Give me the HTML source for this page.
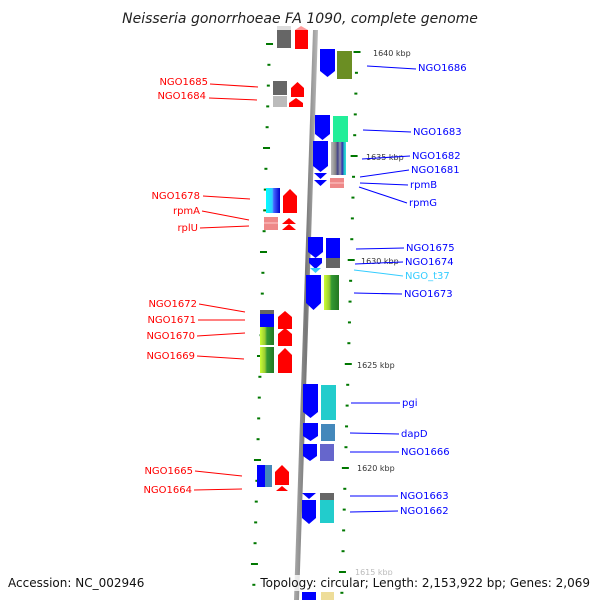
<!DOCTYPE html>
<html><head><meta charset="utf-8"><style>
html,body{margin:0;padding:0;background:#fff;}
svg{display:block;font-family:"DejaVu Sans","Liberation Sans",sans-serif;}
</style></head><body>
<svg id="s" width="600" height="600" viewBox="0 0 600 600" xmlns="http://www.w3.org/2000/svg">
<defs>
<linearGradient id="bb" x1="0" x2="1"><stop offset="0" stop-color="#aaa"/><stop offset="0.5" stop-color="#777"/><stop offset="1" stop-color="#bbb"/></linearGradient>
<linearGradient id="multi" x1="0" x2="1"><stop offset="0" stop-color="#bbb"/><stop offset="0.3" stop-color="#888"/><stop offset="0.45" stop-color="#448"/><stop offset="0.6" stop-color="#99a"/><stop offset="0.75" stop-color="#33a"/><stop offset="0.9" stop-color="#2cc"/><stop offset="1" stop-color="#3dd"/></linearGradient>
<linearGradient id="cyb" x1="0" x2="1"><stop offset="0" stop-color="#0ff"/><stop offset="0.45" stop-color="#3cf"/><stop offset="0.55" stop-color="#46f"/><stop offset="1" stop-color="#00c"/></linearGradient>
<linearGradient id="lg" x1="0" x2="1"><stop offset="0" stop-color="#ccff33"/><stop offset="0.35" stop-color="#99cc33"/><stop offset="0.5" stop-color="#339933"/><stop offset="1" stop-color="#227722"/></linearGradient>
</defs>
<text x="300" y="23" font-size="14" font-style="italic" text-anchor="middle" fill="#222">Neisseria gonorrhoeae FA 1090, complete genome</text>
<polygon points="313,30 318,30 299,600 294,600" fill="url(#bb)"/>
<g id="ticks"></g>
<g font-size="8" fill="#333">
<text x="373" y="56">1640 kbp</text>
<text x="366" y="160">1635 kbp</text>
<text x="361" y="264">1630 kbp</text>
<text x="357" y="368">1625 kbp</text>
<text x="357" y="471">1620 kbp</text>
<text x="355" y="575" fill="#bbb">1615 kbp</text>
</g>
<g>
<rect x="277" y="30" width="14" height="18" fill="#666"/><rect x="277" y="26" width="14" height="4" fill="#ddd"/>
<rect x="295" y="30" width="13" height="19" fill="#f00"/><polygon points="295,30 301,26 308,30" fill="#f99"/>
<rect x="273" y="81" width="14" height="14" fill="#666"/>
<rect x="273" y="96" width="14" height="11" fill="#bbb"/>
<polygon points="291,97 291,88 297.5,82 304,88 304,97" fill="#f00"/>
<polygon points="289,107 289,103 296,98 303,103 303,107" fill="#f00"/>
<rect x="266" y="188" width="14" height="25" fill="url(#cyb)"/>
<polygon points="283,213 283,196 290,189 297,196 297,213" fill="#f00"/>
<rect x="264" y="217" width="14" height="13" fill="#e88"/><line x1="264" y1="223" x2="278" y2="223" stroke="#fcc"/>
<polygon points="282,224 289,218 296,224" fill="#f00"/><polygon points="282,230 289,224 296,230" fill="#f00"/>
<rect x="260" y="310" width="14" height="4" fill="#666"/>
<rect x="260" y="314" width="14" height="13" fill="#00f"/>
<rect x="260" y="327" width="14" height="18" fill="url(#lg)"/>
<rect x="260" y="347" width="14" height="26" fill="url(#lg)"/>
<polygon points="278,329 278,317 285,311 292,317 292,329" fill="#f00"/>
<polygon points="278,346 278,334 285,328 292,334 292,346" fill="#f00"/>
<polygon points="278,373 278,355 285,348 292,355 292,373" fill="#f00"/>
<rect x="257" y="465" width="15" height="22" fill="#00f"/><rect x="265" y="465" width="7" height="22" fill="#48b"/>
<polygon points="275,485 275,472 282,465 289,472 289,485" fill="#f00"/>
<polygon points="276,491 282,486 288,491" fill="#f00"/>
</g>
<g>
<polygon points="320,49 335,49 335,71 327.5,77 320,71" fill="#00f"/>
<rect x="337" y="51" width="15" height="28" fill="#6b8e23"/>
<polygon points="315,115 330,115 330,134 322.5,140 315,134" fill="#00f"/>
<rect x="333" y="116" width="15" height="26" fill="#2e9"/>
<polygon points="313,141 328,141 328,166 320.5,172 313,166" fill="#00f"/>
<polygon points="314,173 327,173 320.5,179" fill="#00f"/>
<polygon points="314,180 327,180 320.5,186" fill="#00f"/>
<rect x="331" y="142" width="15" height="33" fill="url(#multi)"/>
<rect x="330" y="178" width="14" height="10" fill="#e88"/><line x1="330" y1="183" x2="344" y2="183" stroke="#fcc"/>
<polygon points="308,237 323,237 323,252 315.5,258 308,252" fill="#00f"/>
<polygon points="309,258 322,258 322,263 315.5,269 309,263" fill="#00f"/>
<polygon points="310,268 321,268 315.5,273" fill="#3cf"/>
<rect x="326" y="238" width="14" height="20" fill="#00f"/><rect x="326" y="258" width="14" height="10" fill="#666"/>
<polygon points="306,275 321,275 321,303 313.5,310 306,303" fill="#00f"/>
<rect x="324" y="275" width="15" height="35" fill="url(#lg)"/>
<polygon points="303,384 318,384 318,412 310.5,418 303,412" fill="#00f"/>
<rect x="321" y="385" width="15" height="35" fill="#2cc"/>
<polygon points="303,423 318,423 318,436 310.5,441 303,436" fill="#00f"/>
<rect x="321" y="424" width="14" height="17" fill="#48b"/>
<polygon points="303,444 317,444 317,456 310,461 303,456" fill="#00f"/>
<rect x="320" y="444" width="14" height="17" fill="#66c"/>
<polygon points="302,493 316,493 309,499" fill="#00f"/>
<polygon points="302,500 316,500 316,518 309,524 302,518" fill="#00f"/>
<rect x="320" y="493" width="14" height="7" fill="#666"/><rect x="320" y="500" width="14" height="23" fill="#2cc"/>
<rect x="302" y="592" width="14" height="8" fill="#00f"/><rect x="321" y="592" width="13" height="8" fill="#ed9"/>
</g>
<g font-size="10" fill="#f00" text-anchor="end">
<text x="208" y="85">NGO1685</text>
<text x="206" y="99">NGO1684</text>
<text x="200" y="199">NGO1678</text>
<text x="200" y="214">rpmA</text>
<text x="198" y="231">rplU</text>
<text x="197" y="307">NGO1672</text>
<text x="196" y="323">NGO1671</text>
<text x="195" y="339">NGO1670</text>
<text x="195" y="359">NGO1669</text>
<text x="193" y="474">NGO1665</text>
<text x="192" y="493">NGO1664</text>
</g>
<g stroke="#f00" stroke-width="1">
<line x1="210" y1="84" x2="258" y2="87"/>
<line x1="209" y1="98" x2="257" y2="100"/>
<line x1="203" y1="196" x2="250" y2="199"/>
<line x1="202" y1="211" x2="249" y2="220"/>
<line x1="200" y1="228" x2="249" y2="226"/>
<line x1="199" y1="304" x2="245" y2="312"/>
<line x1="198" y1="320" x2="245" y2="320"/>
<line x1="197" y1="336" x2="245" y2="333"/>
<line x1="197" y1="356" x2="244" y2="359"/>
<line x1="195" y1="471" x2="242" y2="476"/>
<line x1="194" y1="490" x2="242" y2="489"/>
</g>
<g font-size="10" fill="#00f">
<text x="418" y="71">NGO1686</text>
<text x="413" y="135">NGO1683</text>
<text x="412" y="159">NGO1682</text>
<text x="411" y="173">NGO1681</text>
<text x="410" y="188">rpmB</text>
<text x="409" y="206">rpmG</text>
<text x="406" y="251">NGO1675</text>
<text x="405" y="265">NGO1674</text>
<text x="405" y="279" fill="#3cf">NGO_t37</text>
<text x="404" y="297">NGO1673</text>
<text x="402" y="406">pgi</text>
<text x="401" y="437">dapD</text>
<text x="401" y="455">NGO1666</text>
<text x="400" y="499">NGO1663</text>
<text x="400" y="514">NGO1662</text>
</g>
<g stroke="#00f" stroke-width="1">
<line x1="367" y1="66" x2="416" y2="69"/>
<line x1="363" y1="130" x2="411" y2="132"/>
<line x1="362" y1="159" x2="410" y2="156"/>
<line x1="360" y1="177" x2="409" y2="170"/>
<line x1="360" y1="183" x2="408" y2="185"/>
<line x1="359" y1="187" x2="407" y2="203"/>
<line x1="356" y1="249" x2="404" y2="248"/>
<line x1="355" y1="264" x2="403" y2="262"/>
<line x1="354" y1="293" x2="402" y2="294"/>
<line x1="351" y1="403" x2="400" y2="403"/>
<line x1="350" y1="433" x2="399" y2="434"/>
<line x1="350" y1="452" x2="399" y2="452"/>
<line x1="350" y1="496" x2="398" y2="496"/>
<line x1="350" y1="512" x2="398" y2="511"/>
</g>
<line x1="354" y1="270" x2="403" y2="276" stroke="#3cf"/>
<rect x="258" y="575" width="336" height="16" fill="#fff" opacity="0.8"/>
<text x="8" y="587" font-size="12" fill="#111">Accession: NC_002946</text>
<text x="590" y="587" font-size="12" fill="#111" text-anchor="end">Topology: circular; Length: 2,153,922 bp; Genes: 2,069</text>
</svg>
<script>
var g=document.getElementById('ticks'),h='';
for(var i=-1;i<29;i++){
 var y=44+i*20.8; if(y<30||y>600)continue;
 var lx=269-(y-45)*0.029, maj=(i%5==0);
 h+='<rect x="'+(maj?lx-3:lx-1)+'" y="'+(y-1)+'" width="'+(maj?7:3)+'" height="2" fill="#070"/>';
 var yr=y+8; var rx=357-(yr-35)*0.028;
 h+='<rect x="'+(maj?rx-3:rx-1)+'" y="'+(yr-1)+'" width="'+(maj?7:3)+'" height="2" fill="#070"/>';
}
g.innerHTML=h;
</script>
</body></html>
